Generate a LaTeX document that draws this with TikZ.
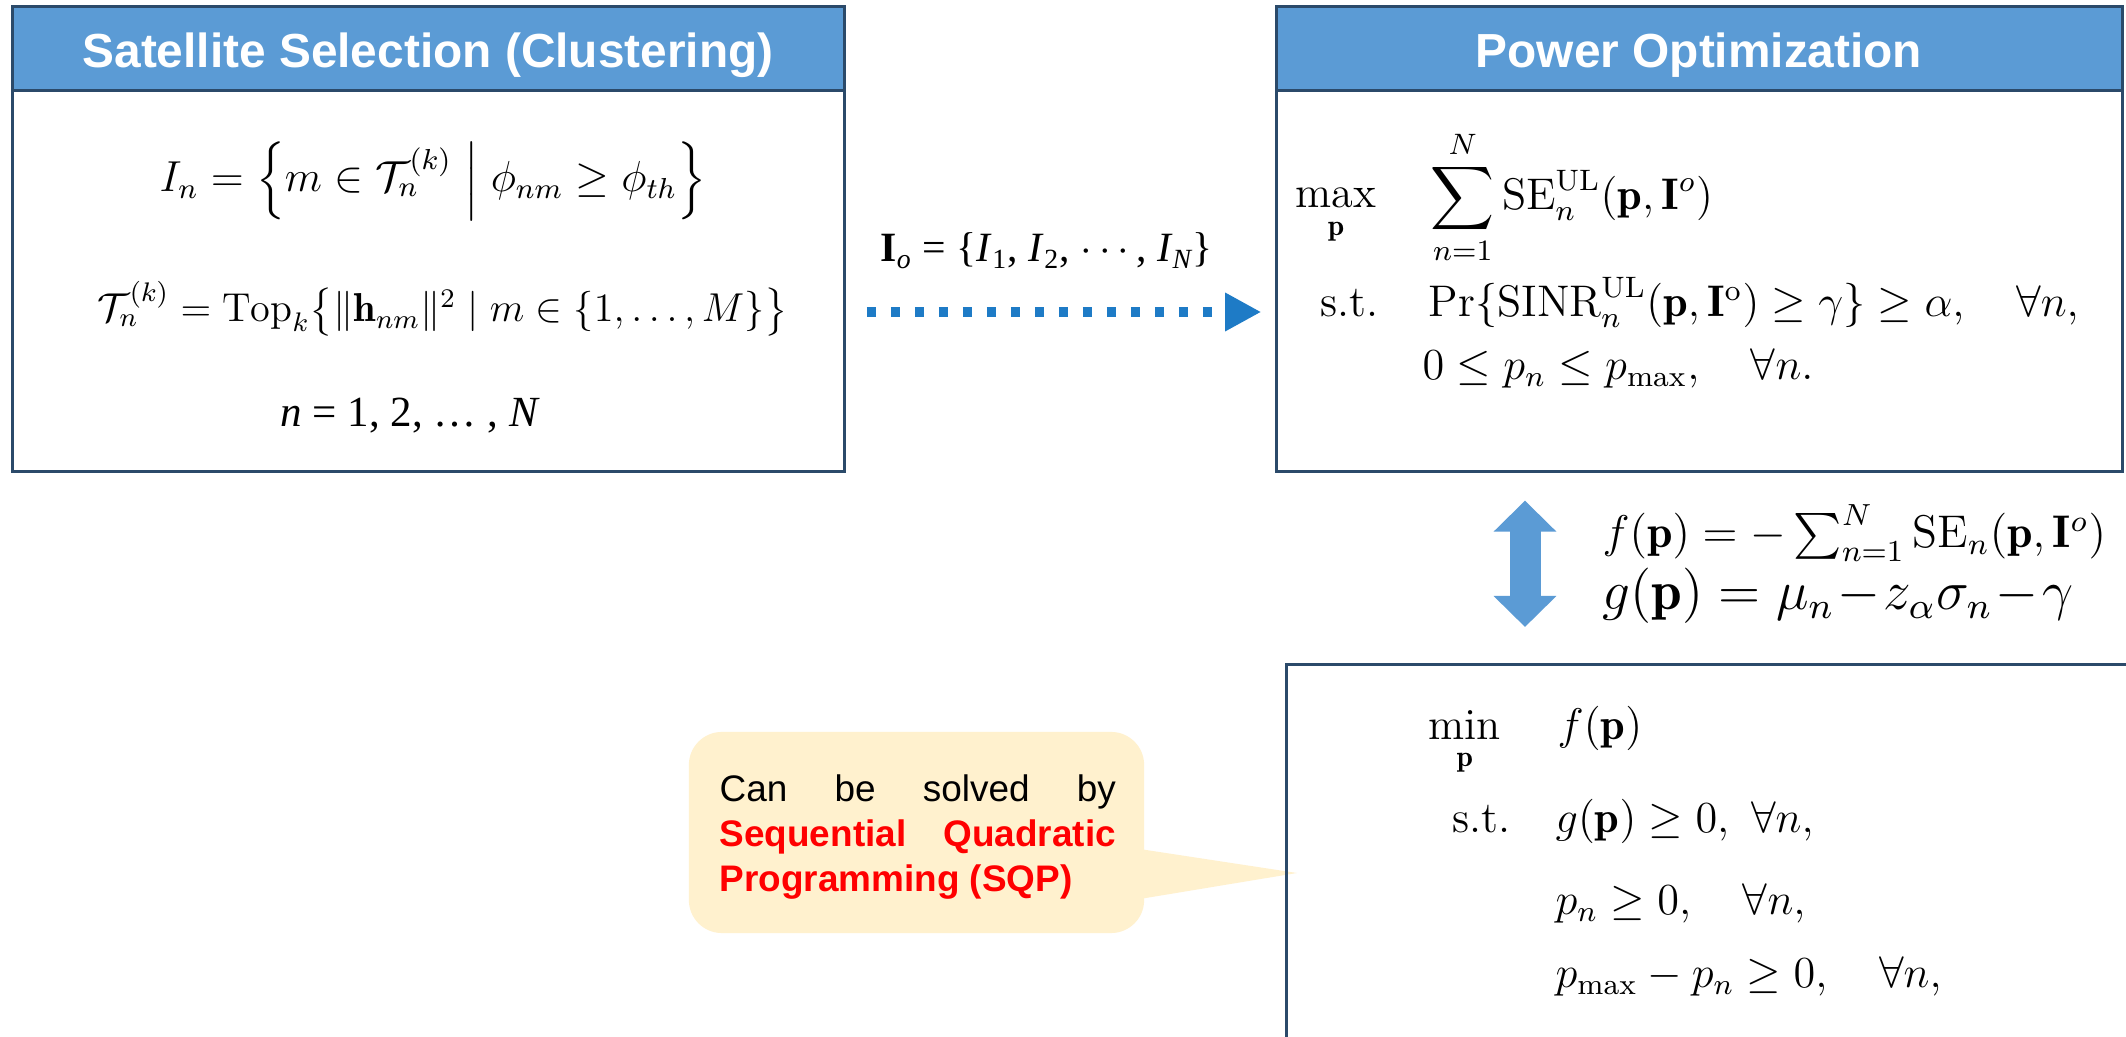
\documentclass[tikz,border=0pt]{standalone}
\usepackage{fontspec}
\usepackage{amsmath,amssymb}
\usepackage{graphicx}
\usetikzlibrary{arrows.meta,calc}
\newfontfamily\arialfont{Liberation Sans}
\newfontfamily\timesfont{Liberation Serif}
\newcommand{\opteq}[1]{\scalebox{1.05}{#1}}
\definecolor{hdrblue}{HTML}{5B9BD5}
\definecolor{frameline}{HTML}{2B4A6A}
\definecolor{flowblue}{HTML}{1E7BC6}
\definecolor{notefill}{HTML}{FFF1CE}
\definecolor{notered}{HTML}{FF0000}
\tikzset{
  panel/.style={draw=frameline, line width=0.03cm, inner sep=0pt},
  header/.style={draw=frameline, fill=hdrblue, line width=0.03cm, inner sep=0pt},
  headtext/.style={inner sep=0pt, text=white, font=\arialfont\bfseries\fontsize{13.6}{16}\selectfont},
  eq/.style={inner sep=0pt, anchor=base west, font=\fontsize{12}{14.4}\selectfont},
  notebox/.style={fill=notefill, rounded corners=0.33cm, inner sep=0pt},
  notetext/.style={inner sep=0pt, anchor=base west, font=\arialfont\fontsize{10.5}{12.7}\selectfont},
  dotarr/.style={draw=flowblue, line width=0.093cm, dash pattern=on 0.093cm off 0.147cm,
    -{Triangle[length=0.36cm,width=0.36cm,fill=flowblue]}},
  dblarr/.style={draw=hdrblue, line width=0.31cm,
    {Triangle[length=0.31cm,width=0.61cm]}-{Triangle[length=0.31cm,width=0.61cm]}}
}
\begin{document}
\begin{tikzpicture}[x=0.01cm,y=-0.01cm]
\clip (0,0) rectangle (2126,1037);
\fill[white] (0,0) rectangle (2126,1037);

% ---- Satellite selection panel ----
\node[panel, minimum width=8.31cm, minimum height=4.64cm] (lbox) at (428.5,239) {};
\node[header, minimum width=8.31cm, minimum height=0.84cm, anchor=north] (lhead) at (lbox.north) {};
\node[headtext, anchor=base] (ltitle) at (428,68) {Satellite Selection (Clustering)};
\node[eq] (e1) at (159,192) {\resizebox{5.46cm}{!}{$I_n = \Big\{ m \in \mathcal{T}_n^{(k)} \;\Big|\; \phi_{nm} \ge \phi_{th} \Big\}$}};
\node[eq] (e2) at (97,322) {\resizebox{6.90cm}{!}{$\mathcal{T}_n^{(k)} = \mathrm{Top}_k \big\{ \|\mathbf{h}_{nm}\|^2 \mid m \in \{1,\ldots,M\} \big\}$}};
\node[eq] (e3) at (280,427) {\resizebox{2.57cm}{!}{\timesfont\itshape n\upshape{} = 1, 2, … , \itshape N}};

% ---- Power optimization panel ----
\node[panel, minimum width=8.45cm, minimum height=4.64cm] (rbox) at (1699.5,239) {};
\node[header, minimum width=8.45cm, minimum height=0.84cm, anchor=north] (rhead) at (rbox.north) {};
\node[headtext, anchor=base] (rtitle) at (1699,68) {Power Optimization};
\node[eq] (maxop) at (1295,208) {\opteq{$\displaystyle\max_{\mathbf{p}}$}};
\node[eq] (obj) at (1430,210) {\opteq{$\displaystyle\sum_{n=1}^{N}\mathrm{SE}_n^{\mathrm{UL}}(\mathbf{p},\mathbf{I}^{o})$}};
\node[eq] (st1) at (1320,317) {\opteq{s.t.}};
\node[eq] (cons1) at (1428,317) {\opteq{$\Pr\{\mathrm{SINR}_n^{\mathrm{UL}}(\mathbf{p},\mathbf{I}^{\mathrm{o}}) \ge \gamma\} \ge \alpha, \quad \forall n,$}};
\node[eq] (cons2) at (1422,380) {\opteq{$0 \le p_n \le p_{\max}, \quad \forall n.$}};

% ---- cluster sets handed over to the power stage ----
\node[eq] (lbl) at (880,262) {\resizebox{3.32cm}{!}{\timesfont\textbf{I}\textsubscript{\itshape o} = \{\textit{I}\textsubscript{1}, \textit{I}\textsubscript{2}, $\cdots$, \textit{I}\textsubscript{\itshape N}\}}};
\coordinate (ay) at (0,312);
\draw[dotarr, shorten <=0.21cm, shorten >=0.14cm] (lbox.east |- ay) -- (rbox.west |- ay);

% ---- SQP note ----
\coordinate (tip) at (1297,873);
\node[notebox, minimum width=4.55cm, minimum height=2.01cm] (sqp) at (916.5,832.5) {};
\fill[notefill] ($(sqp.east)+(-2,17)$) -- (tip) -- ($(sqp.east)+(-2,66)$) -- cycle;
\node[notetext] (sqptxt) at (719,802) {\parbox[t]{3.96cm}{%
  \makebox[3.96cm][s]{Can be solved by}\\
  \textcolor{notered}{\bfseries\makebox[3.96cm][s]{Sequential Quadratic}}\\
  \textcolor{notered}{\bfseries Programming (SQP)}}};

% ---- reformulated problem ----
\node[panel, anchor=north west, minimum width=9cm, minimum height=4cm] (bbox) at (1285,663) {};
\node[eq] (minop) at (1428,740) {\opteq{$\displaystyle\min_{\mathbf{p}}$}};
\node[eq] (fobj) at (1557,740) {\opteq{$f(\mathbf{p})$}};
\node[eq] (st2) at (1452,833) {\opteq{s.t.}};
\node[eq] (c1) at (1555,833) {\opteq{$g(\mathbf{p}) \ge 0,\ \forall n,$}};
\node[eq] (c2) at (1555,915) {\opteq{$p_n \ge 0, \quad \forall n,$}};
\node[eq] (c3) at (1555,988) {\opteq{$p_{\max} - p_n \ge 0, \quad \forall n,$}};

% ---- equivalence between the two formulations ----
\coordinate (ax) at (1525,0);
\draw[dblarr, shorten <=0.28cm, shorten >=0.36cm] (rbox.south -| ax) -- (bbox.north -| ax);
\node[eq] (feq) at (1602,548) {\resizebox{5.03cm}{!}{$f(\mathbf{p}) = -\sum_{n=1}^{N}\mathrm{SE}_n(\mathbf{p},\mathbf{I}^{o})$}};
\node[eq] (geq) at (1602,610) {\resizebox{4.70cm}{!}{$g(\mathbf{p}) = \mu_n\mkern1mu{-}\mkern1mu z_\alpha\sigma_n\mkern1mu{-}\mkern1mu\gamma$}};
\end{tikzpicture}
\end{document}
